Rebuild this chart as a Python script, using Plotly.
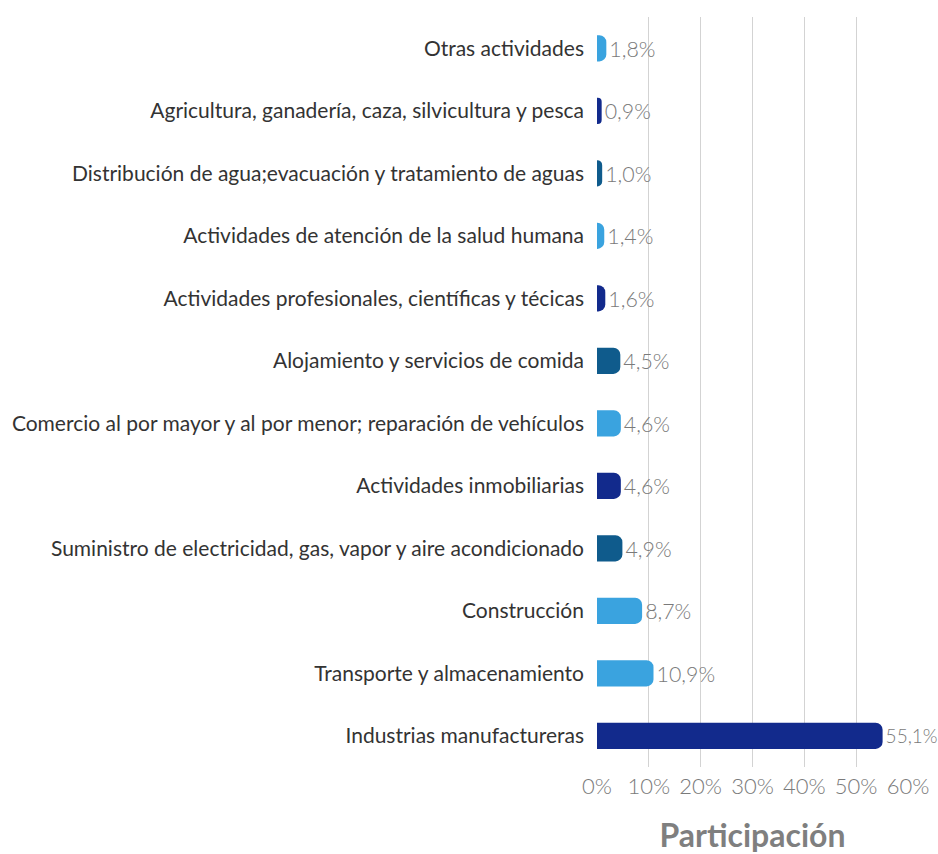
import plotly.graph_objects as go

categories = [
    "Industrias manufactureras",
    "Transporte y almacenamiento",
    "Construcción",
    "Suministro de electricidad, gas, vapor y aire acondicionado",
    "Actividades inmobiliarias",
    "Comercio al por mayor y al por menor; reparación de vehículos",
    "Alojamiento y servicios de comida",
    "Actividades profesionales, científicas y técicas",
    "Actividades de atención de la salud humana",
    "Distribución de agua;evacuación y tratamiento de aguas",
    "Agricultura, ganadería, caza, silvicultura y pesca",
    "Otras actividades",
]
values = [55.1, 10.9, 8.7, 4.9, 4.6, 4.6, 4.5, 1.6, 1.4, 1.0, 0.9, 1.8]
labels = ["55,1%", "10,9%", "8,7%", "4,9%", "4,6%", "4,6%", "4,5%", "1,6%", "1,4%", "1,0%", "0,9%", "1,8%"]
tick_vals = [0, 10, 20, 30, 40, 50, 60]
tick_text = ["0%", "10%", "20%", "30%", "40%", "50%", "60%"]

NAVY = "#122A8C"
MID = "#0F5B8C"
LIGHT = "#3AA3DF"
colors = [NAVY, LIGHT, LIGHT, MID, NAVY, LIGHT, MID, NAVY, LIGHT, MID, NAVY, LIGHT]
label_sizes = [19] + [22] * (len(values) - 1)

fig = go.Figure(go.Bar(
    x=values,
    y=categories,
    orientation="h",
    marker=dict(color=colors, line=dict(width=0)),
    text=labels,
    textposition="outside",
    textfont=dict(family="Lato", size=label_sizes, color="#7a7a7a", weight=300),
    cliponaxis=False,
))

fig.update_layout(
    width=938,
    height=854,
    margin=dict(l=597, r=30, t=17, b=87, autoexpand=False),
    paper_bgcolor="white",
    plot_bgcolor="white",
    bargap=0.58,
    barcornerradius=7,
    showlegend=False,
    font=dict(family="Lato"),
    xaxis=dict(
        range=[0, 60],
        tickvals=tick_vals,
        ticktext=tick_text,
        showgrid=True,
        gridcolor="#d3d3d3",
        gridwidth=1,
        zeroline=False,
        showline=False,
        automargin=False,
        ticklabelstandoff=4,
        tickfont=dict(family="Lato", size=22, color="#7a7a7a", weight=300),
        title=dict(text="<b>Participación</b>", font=dict(family="Lato", size=32, color="#7f7f7f"), standoff=28),
    ),
    yaxis=dict(
        categoryorder="array",
        categoryarray=categories,
        tickfont=dict(family="Lato", size=21, color="#333333"),
        showgrid=False,
        zeroline=False,
        automargin=False,
        ticks="",
        ticklabelstandoff=12,
    ),
)

fig.write_html(
    "out.html",
    config={"displayModeBar": False},
    post_script="document.body.style.margin='0';document.body.style.overflow='hidden';",
)
